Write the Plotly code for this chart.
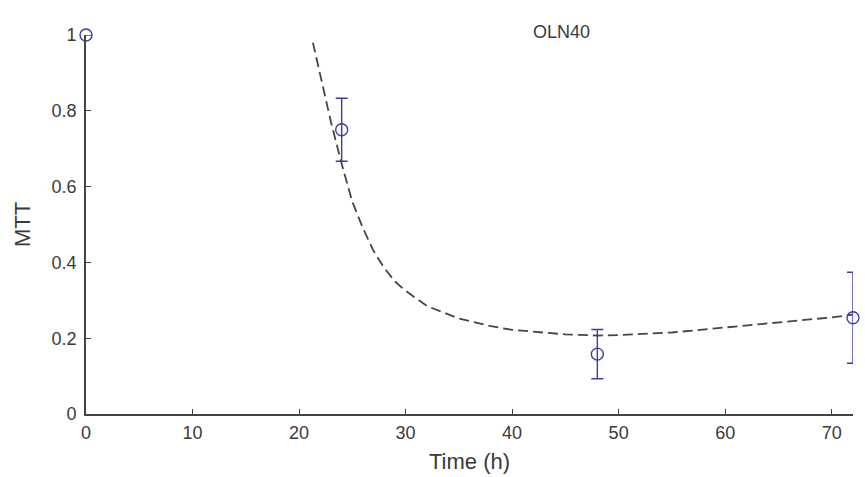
import plotly.graph_objects as go

# Measured data (time in hours, MTT)
time_obs = [0, 24, 48, 72]
mtt_obs = [1.0, 0.75, 0.158, 0.254]
mtt_err = [0.0, 0.083, 0.065, 0.12]

# Fitted model curve (dashed)
time_fit = [21.3, 22, 23, 24, 25, 26, 27, 28, 29, 30, 32, 35, 38, 40, 45, 48, 50, 55, 60, 65, 70, 72]
mtt_fit = [0.98, 0.89, 0.77, 0.66, 0.56, 0.49, 0.43, 0.385, 0.35, 0.325, 0.285, 0.252, 0.232, 0.222,
           0.21, 0.207, 0.208, 0.215, 0.228, 0.242, 0.255, 0.262]

title_text = "OLN40"
x_ticks = [0, 10, 20, 30, 40, 50, 60, 70]
y_ticks = [0, 0.2, 0.4, 0.6, 0.8, 1]
y_ticklabels = ["0", "0.2", "0.4", "0.6", "0.8", "1"]

blue = "#3c3ca2"
axis_col = "#444444"
font = dict(family="Liberation Sans, Arial, sans-serif", size=18, color="#3a3a3a")

fig = go.Figure()
fig.add_trace(go.Scatter(
    x=time_fit, y=mtt_fit, mode="lines",
    line=dict(color="#454545", width=1.8, dash="10px,5px"),
    showlegend=False, hoverinfo="skip",
))
# error bars (clipped at the axes like the original)
fig.add_trace(go.Scatter(
    x=time_obs, y=mtt_obs, mode="markers",
    marker=dict(size=1, color="rgba(0,0,0,0)"),
    error_y=dict(type="data", array=mtt_err, visible=True, color=blue, thickness=1.4, width=6),
    cliponaxis=True, showlegend=False, hoverinfo="skip",
))
# circle markers (not clipped)
fig.add_trace(go.Scatter(
    x=time_obs, y=mtt_obs, mode="markers",
    marker=dict(symbol="circle-open", size=12, color=blue, line=dict(width=1.4, color=blue)),
    cliponaxis=False, showlegend=False,
))

fig.add_annotation(
    x=0.62, y=1.0, xref="paper", yref="paper", text=title_text, showarrow=False,
    font=font, xanchor="center", yanchor="middle", yshift=3,
)

fig.update_layout(
    width=865, height=477,
    margin=dict(l=86, r=12, t=35, b=63, autoexpand=False),
    paper_bgcolor="white", plot_bgcolor="white",
    font=font,
)
fig.update_xaxes(
    range=[0, 72], tickvals=x_ticks, ticks="inside", ticklen=5, tickwidth=1.2, tickcolor=axis_col,
    showline=True, linecolor=axis_col, linewidth=1.8, showgrid=False, zeroline=False, automargin=False,
    title=dict(text="Time (h)", standoff=12), tickfont=font, ticklabelstandoff=1,
)
fig.update_yaxes(
    range=[0, 1], tickvals=y_ticks, ticktext=y_ticklabels, ticks="inside", ticklen=5, tickwidth=1.2,
    tickcolor=axis_col, showline=True, linecolor=axis_col, linewidth=1.8, showgrid=False, zeroline=False,
    automargin=False, title=dict(text="MTT", standoff=15), tickfont=font, ticklabelstandoff=4,
)

fig.write_html("out.html")
